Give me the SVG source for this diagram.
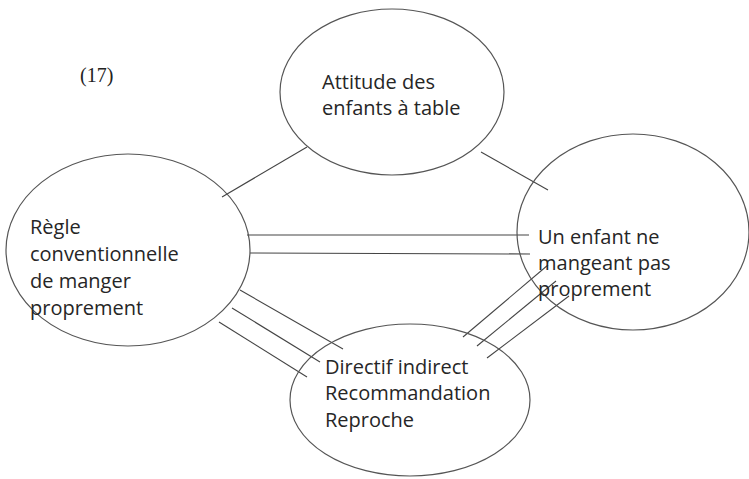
<svg xmlns="http://www.w3.org/2000/svg" width="749" height="479" viewBox="0 0 749 479">
<style>
.n{fill:none;stroke:#555;stroke-width:1.2}
.t{font-family:"Open Sans","Noto Sans",sans-serif;font-size:20px;fill:#262626}
.c line{stroke:#444;stroke-width:1.1}
</style>
<rect width="749" height="479" fill="#fff"/>
<text x="80" y="82" font-family="Liberation Serif,serif" font-size="20" fill="#222">(17)</text>
<g class="c">
<line x1="222" y1="197" x2="307" y2="147"/>
<line x1="481" y1="152" x2="548" y2="190"/>
<line x1="247" y1="235" x2="529" y2="235"/>
<line x1="250" y1="253" x2="530" y2="254"/>
<line x1="240" y1="290" x2="343" y2="349"/>
<line x1="232" y1="308" x2="320" y2="362"/>
<line x1="219" y1="322" x2="307" y2="377"/>
<line x1="548" y1="265" x2="463" y2="337"/>
<line x1="556" y1="281" x2="477" y2="346"/>
<line x1="569" y1="296" x2="487" y2="358"/>
</g>
<g id="top"><ellipse class="n" cx="392" cy="92" rx="112" ry="83"/>
<text class="t" x="322" y="89">Attitude des</text><text class="t" x="322" y="115">enfants à table</text></g>
<g id="left"><ellipse class="n" cx="128" cy="250" rx="122" ry="96"/>
<text class="t" x="30" y="234">Règle</text><text class="t" x="30" y="261">conventionnelle</text><text class="t" x="30" y="288">de manger</text><text class="t" x="30" y="315">proprement</text></g>
<g id="right"><ellipse class="n" cx="633" cy="232" rx="116" ry="98"/>
<text class="t" x="538" y="244">Un enfant ne</text><text class="t" x="538" y="270">mangeant pas</text><text class="t" x="538" y="296">proprement</text></g>
<g id="bottom"><ellipse class="n" cx="410" cy="400" rx="120" ry="76"/>
<text class="t" x="325" y="374">Directif indirect</text><text class="t" x="325" y="400">Recommandation</text><text class="t" x="325" y="427">Reproche</text></g>
</svg>
